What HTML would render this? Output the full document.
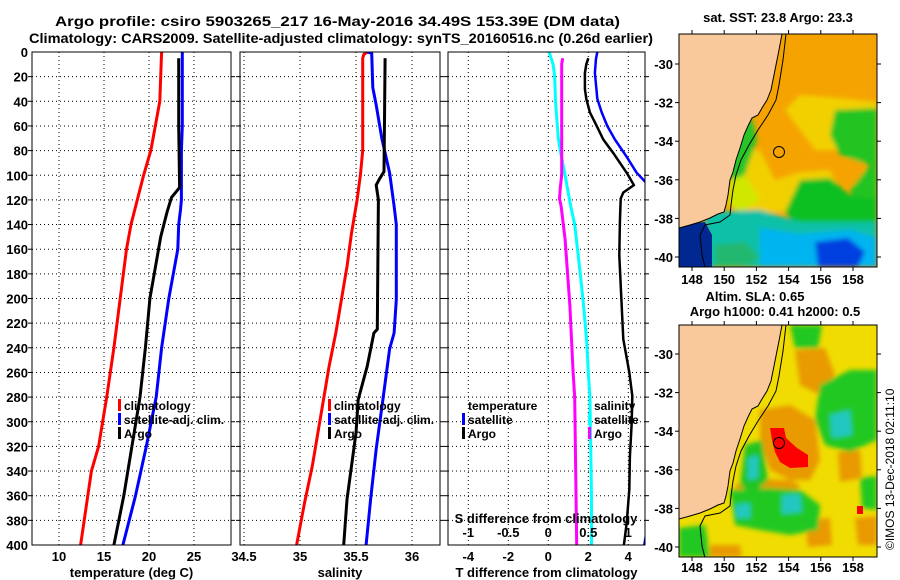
<!DOCTYPE html>
<html><head><meta charset="utf-8"><style>
html,body{margin:0;padding:0;background:#fff;}
svg{display:block;font-family:"Liberation Sans",sans-serif;font-weight:bold;}
</style></head><body>
<svg id="chart" width="900" height="580" viewBox="0 0 900 580" xmlns="http://www.w3.org/2000/svg">
<defs>
<filter id="bl" x="-20%" y="-20%" width="140%" height="140%"><feGaussianBlur stdDeviation="2.5"/></filter>
<clipPath id="c1"><rect x="32" y="52" width="199" height="493"/></clipPath>
<clipPath id="c2"><rect x="240" y="52" width="200" height="493"/></clipPath>
<clipPath id="c3"><rect x="448" y="52" width="197" height="493"/></clipPath>
<clipPath id="m1"><rect x="679" y="34" width="198" height="233"/></clipPath>
<clipPath id="m2"><rect x="679" y="325" width="198" height="232"/></clipPath>
</defs>
<text x="55" y="26" font-size="14" textLength="565" lengthAdjust="spacingAndGlyphs">Argo profile: csiro 5903265_217 16-May-2016 34.49S 153.39E (DM data)</text>
<text x="29" y="43" font-size="14" textLength="624" lengthAdjust="spacingAndGlyphs">Climatology: CARS2009. Satellite-adjusted climatology: synTS_20160516.nc (0.26d earlier)</text>

<g id="grids"></g>
<g id="series"></g>
<g id="axes"></g>

<!-- SST map -->
<g clip-path="url(#m1)">
<rect x="679" y="34" width="198" height="233" fill="#f5a300"/>
<g filter="url(#bl)">
<polygon fill="#f2d000" points="800,95 840,98 877,102 877,145 840,150 815,150 800,130 785,110"/>
<polygon fill="#f2d000" points="735,150 760,150 775,180 800,172 830,170 840,190 820,210 780,212 740,212 730,190"/>
<polygon fill="#f5a300" points="842,160 862,158 865,182 846,186"/>
<polygon fill="#20c420" points="835,110 877,108 877,215 860,210 850,190 870,165 840,155 830,135"/>
<polygon fill="#10c020" points="800,180 830,178 850,195 877,200 877,230 800,228 785,212"/>
<polygon fill="#28c428" points="736,125 752,118 757,140 748,165 740,190 730,195 730,170"/>
<polygon fill="#d0e800" points="730,180 745,175 760,200 740,212 728,205"/>
<polygon fill="#10c0a8" points="705,212 760,210 800,222 877,222 877,267 705,267"/>
<polygon fill="#00b4f0" points="760,228 800,234 850,230 877,238 877,267 760,267"/>
<polygon fill="#20b870" points="715,245 745,242 760,258 745,267 715,267"/>
<polygon fill="#0040e0" points="815,242 848,238 865,252 858,267 818,267"/>
</g>
<polygon fill="#002890" points="679,225 705,222 712,235 712,267 679,267"/>
<polygon fill="#f9c89b" stroke="#000" stroke-width="1" points="679,34 782,34 779,50 775,70 771,90 767,100 762,108 758,115 752,118 748,126 744,135 740,148 736,160 733,172 730,180 728,195 726,205 724,212 718,214 710,218 700,222 690,225 679,228"/>
<polyline fill="none" stroke="#000" stroke-width="1" points="786,34 783,60 779,85 776,100 768,115 758,130 749,145 741,160 736,175 733,190 731,205 730,215 720,222 705,225 700,235 702,255 705,267"/>
<circle cx="779" cy="152" r="5.5" fill="none" stroke="#000" stroke-width="1"/>
</g>
<rect x="679" y="34" width="198" height="233" fill="none" stroke="#000"/>

<!-- SLA map -->
<g clip-path="url(#m2)">
<rect x="679" y="325" width="198" height="232" fill="#f0dc00"/>
<g filter="url(#bl)">
<polygon fill="#e89a00" points="795,350 825,348 835,375 820,395 800,385"/>
<polygon fill="#e89a00" points="760,410 790,405 815,420 820,460 810,480 780,480 750,478 735,485 740,500 790,500 800,485 770,470 760,440"/>
<polygon fill="#e89a00" points="838,452 860,450 862,478 840,482"/>
<polygon fill="#e89a00" points="805,520 830,518 832,545 808,547"/>
<polygon fill="#e89a00" points="855,518 877,516 877,545 858,545"/>
<polygon fill="#e89a00" points="710,545 740,545 742,557 710,557"/>
<polygon fill="#20c820" points="790,325 822,325 818,348 795,348"/>
<polygon fill="#20c820" points="820,385 850,370 877,370 877,440 850,452 825,445 815,420"/>
<polygon fill="#20c8c0" points="830,415 850,410 852,435 832,438"/>
<polygon fill="#22c422" points="745,445 762,440 768,480 752,495 740,485"/>
<polygon fill="#20c8c0" points="748,458 758,455 758,478 748,480"/>
<polygon fill="#20c820" points="730,490 770,488 800,490 820,505 818,530 790,535 760,530 735,525"/>
<polygon fill="#20c8c0" points="782,495 800,494 802,512 782,514"/>
<polygon fill="#20c8c0" points="735,505 750,503 750,518 736,518"/>
<polygon fill="#20c820" points="860,478 877,476 877,510 862,508"/>
<polygon fill="#20c820" points="679,528 705,525 710,557 679,557"/>
</g>
<polygon fill="#ff0000" points="770,428 784,428 786,438 797,448 808,455 808,467 790,468 780,462 775,452 772,440"/>
<rect x="857" y="506" width="6" height="8" fill="#ff0000"/>
<g transform="translate(0,291)">
<polygon fill="#f9c89b" stroke="#000" stroke-width="1" points="679,34 782,34 779,50 775,70 771,90 767,100 762,108 758,115 752,118 748,126 744,135 740,148 736,160 733,172 730,180 728,195 726,205 724,212 718,214 710,218 700,222 690,225 679,228"/>
<polyline fill="none" stroke="#000" stroke-width="1" points="786,34 783,60 779,85 776,100 768,115 758,130 749,145 741,160 736,175 733,190 731,205 730,215 720,222 705,225 700,235 702,255 705,267"/>
<circle cx="779" cy="152" r="5.5" fill="none" stroke="#000" stroke-width="1"/>
</g>
</g>
<rect x="679" y="325" width="198" height="232" fill="none" stroke="#000"/>

<g font-size="13">
<text x="778" y="22" text-anchor="middle">sat. SST: 23.8 Argo: 23.3</text>
<text x="755" y="301" text-anchor="middle">Altim. SLA: 0.65</text>
<text x="775" y="316" text-anchor="middle">Argo h1000: 0.41 h2000: 0.5</text>
<text transform="translate(894,550) rotate(-90)" font-size="12" font-weight="normal">©IMOS 13-Dec-2018 02:11:10</text>
</g>
<g id="mapaxes"></g>
</svg>
<script>
// ---------- data ----------
const depthsClimT = [0,40,60,80,100,120,140,160,200,240,280,320,340,370,400];
const tempClim    = [21.4,21.2,20.7,20.2,19.4,18.7,18.0,17.5,16.8,16.1,15.3,14.4,13.6,13.0,12.4];
const depthsSatT  = [0,60,80,120,128,140,160,200,240,280,320,360,400];
const tempSat     = [23.7,23.7,23.6,23.6,23.5,23.3,23.2,22.2,21.4,20.8,19.7,18.5,17.1];
const depthsArgoT = [5,60,110,118,130,150,200,240,280,320,360,400];
const tempArgo    = [23.3,23.3,23.4,22.5,22.0,21.3,20.1,19.6,19.0,18.1,17.2,16.1];

const depthsClimS = [0,2,5,80,99,120,147,174,201,228,255,282,309,336,366,400];
const salClim     = [35.60,35.57,35.56,35.56,35.54,35.51,35.46,35.42,35.37,35.32,35.26,35.21,35.16,35.11,35.04,34.97];
const depthsSatS  = [0,1,29,43,70,98,125,140,201,228,241,282,322,363,400];
const salSat      = [35.60,35.64,35.65,35.68,35.73,35.80,35.84,35.86,35.86,35.84,35.80,35.74,35.68,35.63,35.59];
const depthsArgoS = [5,97,103,108,120,225,228,255,282,309,336,363,400];
const salArgo     = [35.76,35.75,35.71,35.68,35.70,35.69,35.66,35.60,35.52,35.50,35.46,35.42,35.39];

const depthsDT    = [5,10,17,30,38,49,57,71,82,98,108,114,119,138,165,206,233,260,279,301,328,355,382,400];
const tDiffArgo   = [2.0,1.9,1.83,1.83,1.9,2.08,2.33,2.75,3.25,3.92,4.28,3.75,3.62,3.58,3.55,3.67,3.75,4.05,4.2,4.17,4.08,4.05,3.92,3.78];
const depthsDTS   = [0,6,17,38,49,60,71,85,98,108,120,200,300,380,400];
const tDiffSat    = [2.45,2.38,2.33,2.45,2.67,2.95,3.33,3.92,4.42,5.0,5.6,5.6,5.3,5.0,4.8];
const depthsDS    = [0,10,20,40,70,80,100,125,140,180,205,235,260,280,320,360,400];
const sDiffSat    = [0.01,0.06,0.08,0.09,0.125,0.15,0.21,0.28,0.33,0.40,0.44,0.48,0.50,0.52,0.53,0.54,0.54];
const depthsDSA   = [5,10,100,110,119,125,152,179,206,233,260,280,400];
const sDiffArgo   = [0.18,0.167,0.167,0.15,0.14,0.16,0.21,0.24,0.27,0.29,0.31,0.33,0.355];

const depthTicks = [0,20,40,60,80,100,120,140,160,180,200,220,240,260,280,300,320,340,360,380,400];
const tempTicks = [10,15,20,25];
const salTicks = [34.5,35,35.5,36];
const diffTicks = [-4,-2,0,2,4];
const sDiffTicks = [-1,-0.5,0,0.5,1];
const lonTicks = [148,150,152,154,156,158];
const latTicks = [-30,-32,-34,-36,-38,-40];

// ---------- scales ----------
const NS="http://www.w3.org/2000/svg";
const Y0=52,Y1=545;
const yD=d=>Y0+(d/400)*(Y1-Y0);
const P1={x0:32,x1:231,min:7,max:29.111};
const P2={x0:240,x1:440,min:34.4643,max:36.25};
const P3={x0:448,x1:645,min:-5.015,max:4.835};
const sx=(p,v)=>p.x0+(v-p.min)/(p.max-p.min)*(p.x1-p.x0);
const grids=document.getElementById('grids'),series=document.getElementById('series'),axes=document.getElementById('axes'),mapaxes=document.getElementById('mapaxes');
function el(tag,attrs,parent,txt){const e=document.createElementNS(NS,tag);for(const k in attrs)e.setAttribute(k,attrs[k]);if(txt!==undefined)e.textContent=txt;parent.appendChild(e);return e;}

const panels=[[P1,tempTicks,'temperature-panel','temperature (deg C)'],[P2,salTicks,'salinity-panel','salinity'],[P3,diffTicks,'difference-panel','T difference from climatology']];
panels.forEach(([p,ticks,name,title])=>{
  depthTicks.forEach(d=>{
    if(d>0&&d<400){const g=el('line',{x1:p.x0,x2:p.x1,y1:yD(d),y2:yD(d),stroke:'#000','stroke-width':1,'stroke-dasharray':'1,3'},grids);
    
    
    const t1=el('line',{x1:p.x0,x2:p.x0-4,y1:yD(d),y2:yD(d),stroke:'#000'},axes);
    
    
    const t2=el('line',{x1:p.x1,x2:p.x1+4,y1:yD(d),y2:yD(d),stroke:'#000'},axes);
    
    }
  });
  ticks.forEach(v=>{const x=sx(p,v);
    const g=el('line',{x1:x,x2:x,y1:Y0,y2:Y1,stroke:'#000','stroke-dasharray':'1,3'},grids);
    
    
    const t=el('text',{x:x,y:561,'text-anchor':'middle','font-size':13},axes,String(v));
    
    
  });
  const r=el('rect',{x:p.x0,y:Y0,width:p.x1-p.x0,height:Y1-Y0,fill:'none',stroke:'#000','stroke-width':1},axes);
  
  
  const at=el('text',{x:(p.x0+p.x1)/2,y:577,'text-anchor':'middle','font-size':13},axes,title);
  
  
});
depthTicks.forEach(d=>{
  const t=el('text',{x:28,y:yD(d)+5,'text-anchor':'end','font-size':13},axes,String(d));
  
  
});
sDiffTicks.forEach(v=>{
  const t=el('text',{x:sx(P3,v*4),y:537,'text-anchor':'middle','font-size':13},axes,String(v));
  
  
});
const st=el('text',{x:546,y:523,'text-anchor':'middle','font-size':13},axes,'S difference from climatology');



function line(p,clip,ds,vs,color,w,name,scale){
  const pts=ds.map((d,i)=>sx(p,vs[i]*(scale||1)).toFixed(1)+','+yD(d).toFixed(1)).join(' ');
  const l=el('polyline',{points:pts,fill:'none',stroke:color,'stroke-width':w,'clip-path':'url(#'+clip+')','stroke-linejoin':'round'},series);
  
  
}
line(P1,'c1',depthsClimT,tempClim,'#ff0000',3,'temp-climatology-line');
line(P1,'c1',depthsSatT,tempSat,'#0000ff',3,'temp-satellite-line');
line(P1,'c1',depthsArgoT,tempArgo,'#000',3,'temp-argo-line');
line(P2,'c2',depthsClimS,salClim,'#ff0000',3,'sal-climatology-line');
line(P2,'c2',depthsSatS,salSat,'#0000ff',3,'sal-satellite-line');
line(P2,'c2',depthsArgoS,salArgo,'#000',3,'sal-argo-line');
line(P3,'c3',depthsDS,sDiffSat,'#00ffff',3,'s-diff-satellite-line',4);
line(P3,'c3',depthsDSA,sDiffArgo,'#ff00ff',3,'s-diff-argo-line',4);
line(P3,'c3',depthsDTS,tDiffSat,'#0000ff',2.5,'t-diff-satellite-line');
line(P3,'c3',depthsDT,tDiffArgo,'#000',2.5,'t-diff-argo-line');

function legend(x,y,color,text,name){
  if(color){const b=el('rect',{x:x-6,y:y-11,width:3,height:12,fill:color},axes);
  
  }
  const t=el('text',{x:x,y:y,'font-size':12},axes,text);
  
  
}
legend(124,410,'#ff0000','climatology','legend-climatology');
legend(124,424,'#0000ff','satellite-adj. clim.','legend-satellite');
legend(124,438,'#000','Argo','legend-argo');
legend(334,410,'#ff0000','climatology','legend-climatology-2');
legend(334,424,'#0000ff','satellite-adj. clim.','legend-satellite-2');
legend(334,438,'#000','Argo','legend-argo-2');
legend(468,410,null,'temperature','legend-temperature');
legend(468,424,'#0000ff','satellite','legend-t-satellite');
legend(468,438,'#000','Argo','legend-t-argo');
legend(594,410,null,'salinity','legend-salinity');
legend(594,424,'#00ffff','satellite','legend-s-satellite');
legend(594,438,'#ff00ff','Argo','legend-s-argo');

const lonX=v=>692+(v-148)*16.1;
[[34,267,64,284],[325,557,354,572]].forEach(([top,bot,lat30,ly])=>{
  lonTicks.forEach(v=>{const x=lonX(v);
    el('line',{x1:x,x2:x,y1:top,y2:top-4,stroke:'#000'},mapaxes);
    el('line',{x1:x,x2:x,y1:bot,y2:bot+4,stroke:'#000'},mapaxes);
    const t=el('text',{x:x,y:ly,'text-anchor':'middle','font-size':13},mapaxes,String(v));
    
    
  });
  latTicks.forEach(v=>{const y=lat30+(-30-v)*19.3;
    el('line',{x1:679,x2:675,y1:y,y2:y,stroke:'#000'},mapaxes);
    el('line',{x1:877,x2:881,y1:y,y2:y,stroke:'#000'},mapaxes);
    const t=el('text',{x:673,y:y+5,'text-anchor':'end','font-size':13},mapaxes,String(v));
    
    
  });
});
</script>
</body></html>
